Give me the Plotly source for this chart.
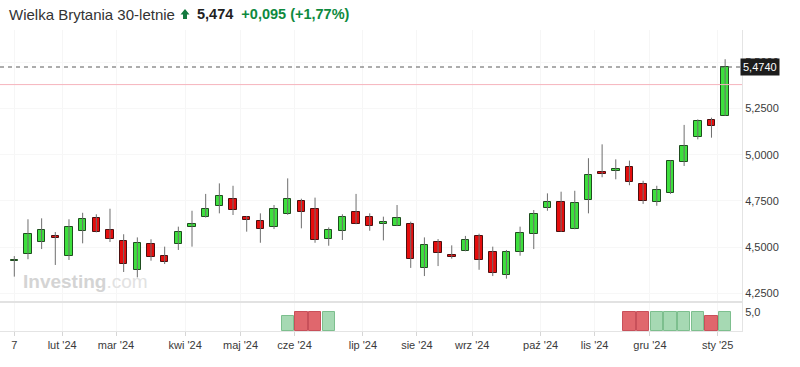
import plotly.graph_objects as go

# Weekly candles (week index 0 = 7 Jan 2024)
opens  = [4.427,4.462,4.528,4.562,4.452,4.588,4.659,4.591,4.534,4.378,4.519,4.452,4.519,4.611,4.662,4.721,4.761,4.665,4.640,4.609,
          4.678,4.748,4.706,4.543,4.586,4.692,4.662,4.625,4.615,4.627,4.386,4.530,4.456,4.479,4.559,4.476,4.350,4.476,4.573,4.710,
          4.743,4.598,4.755,4.906,4.910,4.932,4.840,4.746,4.791,4.961,5.094,5.188,5.211]
highs  = [4.452,4.651,4.656,4.582,4.651,4.686,4.678,4.708,4.570,4.553,4.543,4.503,4.611,4.697,4.788,4.845,4.832,4.669,4.683,4.728,
          4.872,4.762,4.768,4.607,4.678,4.788,4.683,4.665,4.728,4.638,4.553,4.544,4.510,4.561,4.573,4.503,4.485,4.611,4.701,4.791,
          4.800,4.805,4.981,5.056,4.975,4.968,4.859,4.832,4.968,5.161,5.191,5.200,5.516]
lows   = [4.341,4.435,4.490,4.404,4.431,4.521,4.580,4.528,4.366,4.337,4.427,4.409,4.485,4.503,4.660,4.683,4.674,4.584,4.524,4.598,
          4.675,4.602,4.524,4.508,4.539,4.624,4.589,4.537,4.614,4.388,4.344,4.398,4.438,4.478,4.378,4.344,4.330,4.454,4.490,4.697,
          4.583,4.597,4.683,4.878,4.867,4.835,4.734,4.724,4.788,4.939,5.083,5.092,5.210]
closes = [4.427,4.570,4.591,4.548,4.611,4.654,4.582,4.546,4.408,4.521,4.445,4.422,4.582,4.624,4.705,4.777,4.701,4.649,4.600,4.708,
          4.761,4.689,4.537,4.591,4.664,4.625,4.616,4.636,4.659,4.436,4.514,4.470,4.445,4.539,4.431,4.359,4.472,4.578,4.681,4.746,
          4.584,4.737,4.892,4.896,4.921,4.851,4.750,4.808,4.966,5.047,5.184,5.155,5.474]
volumes = [0]*20 + [4,5,5,5] + [0]*21 + [5,5,5,5,5,5,4,5]

prev_close = 5.379
last_close = 5.474

x_tick_pos = [0, 3.5, 7.44, 12.5, 16.55, 20.5, 25.5, 29.45, 33.5, 38.5, 42.45, 46.5, 51.45]
x_tick_text = ["7", "lut '24", "mar '24", "kwi '24", "maj '24", "cze '24", "lip '24", "sie '24",
               "wrz '24", "paź '24", "lis '24", "gru '24", "sty '25"]
y_tick_vals = [4.25, 4.5, 4.75, 5.0, 5.25, 5.5]

n = len(opens)
idx = list(range(n))

W, H = 800, 367
plot_right = 742 / W
main_bottom = (H - 302) / H
main_top = (H - 30) / H
vol_bottom = (H - 331) / H

px_per_unit = 185.0
y_at_5 = 154.7
ymin = 5 + (y_at_5 - 302) / px_per_unit
ymax = 5 + (y_at_5 - 30) / px_per_unit
x_step = 13.67
x0_px = 14.3
xmin = (0 - x0_px) / x_step
xmax = (742 - x0_px) / x_step

GREEN = "#3de03d"
RED = "#e50d0d"
GREEN_EDGE = "#1f4d1f"
RED_EDGE = "#4d1010"

up = [c >= o for o, c in zip(opens, closes)]

fig = go.Figure()

# wicks
wx, wy = [], []
for i in idx:
    wx += [i, i, None]
    wy += [lows[i], highs[i], None]
fig.add_trace(go.Scatter(x=wx, y=wy, mode="lines", line=dict(color="#6e6e6e", width=1),
                         hoverinfo="skip", showlegend=False, yaxis="y"))

# bodies
base = [min(o, c) for o, c in zip(opens, closes)]
hgt = [max(abs(c - o), 0.003) for o, c in zip(opens, closes)]
fig.add_trace(go.Bar(x=idx, y=hgt, base=base, width=0.55,
                     marker=dict(color=[GREEN if u else RED for u in up],
                                 line=dict(color=[GREEN_EDGE if u else RED_EDGE for u in up], width=1)),
                     showlegend=False, yaxis="y"))

# volume
fig.add_trace(go.Bar(x=idx, y=volumes, width=0.9,
                     marker=dict(color=["#a6d9b3" if u else "#e0676d" for u in up],
                                 line=dict(color=["#7dbf8e" if u else "#c8505a" for u in up],
                                           width=[1 if v > 0 else 0 for v in volumes])),
                     showlegend=False, yaxis="y2"))

axis_font = dict(family="Liberation Sans, Arial", size=11, color="#3a3a3a")

def px(xp):
    return xp / W

def py(yp):
    return (H - yp) / H

fig.update_layout(
    width=W, height=H, margin=dict(l=0, r=0, t=0, b=0),
    paper_bgcolor="white", plot_bgcolor="white",
    bargap=0, barmode="overlay",
    font=dict(family="Liberation Sans, Arial", color="#333"),
    xaxis=dict(domain=[0, plot_right], range=[xmin, xmax], anchor="y2",
               tickvals=x_tick_pos, ticktext=x_tick_text, tickfont=axis_font,
               showgrid=True, gridcolor="#f6f6f6", zeroline=False,
               showline=True, linecolor="#e4e4e4", linewidth=1,
               ticks="outside", ticklen=4, tickcolor="#d6d6d6"),
    yaxis=dict(domain=[main_bottom, main_top], range=[ymin, ymax], side="right", anchor="x",
               tickvals=y_tick_vals, ticktext=[f"{v:.4f}".replace(".", ",") for v in y_tick_vals],
               tickfont=axis_font, showgrid=True, gridcolor="#f7f7f7", zeroline=False,
               showline=True, linecolor="#e4e4e4", ticks=""),
    yaxis2=dict(domain=[vol_bottom, main_bottom], range=[0, 7.51], side="right", anchor="x",
                tickvals=[5], ticktext=["5,0"], tickfont=axis_font, showgrid=False, zeroline=False,
                showline=True, linecolor="#e4e4e4", ticks=""),
    shapes=[
        dict(type="line", xref="paper", yref="y", x0=0, x1=plot_right, y0=prev_close, y1=prev_close,
             line=dict(color="#f6b5bd", width=1)),
        dict(type="line", xref="paper", yref="y", x0=0, x1=plot_right, y0=last_close, y1=last_close,
             line=dict(color="#5a5a5a", width=1, dash="4px,4px")),
        dict(type="line", xref="paper", yref="paper", x0=0, x1=plot_right, y0=main_bottom, y1=main_bottom,
             line=dict(color="#e2e2e2", width=2)),
        # up-arrow icon in the title
        dict(type="path", xref="paper", yref="paper",
             path=(f"M {px(180.5)} {py(14.5)} L {px(185)} {py(9)} L {px(189.5)} {py(14.5)} "
                   f"L {px(187)} {py(14.5)} L {px(187)} {py(19)} L {px(183)} {py(19)} "
                   f"L {px(183)} {py(14.5)} Z"),
             fillcolor="#137a3f", line=dict(width=0)),
    ],
    annotations=[
        dict(xref="paper", yref="paper", x=px(7), y=py(14), xanchor="left", yanchor="middle",
             showarrow=False, align="left", text="Wielka Brytania 30-letnie",
             font=dict(family="Liberation Sans, Arial", size=15, color="#333333")),
        dict(xref="paper", yref="paper", x=px(195), y=py(14), xanchor="left", yanchor="middle",
             showarrow=False, align="left",
             text="<b>5,474</b>  <b><span style='color:#0e8a3e'>+0,095 (+1,77%)</span></b>",
             font=dict(family="Liberation Sans, Arial", size=14.5, color="#222222")),
        dict(xref="paper", yref="y", x=plot_right - 2 / W, y=last_close, xanchor="left", yanchor="middle",
             showarrow=False, text="5,4740", bgcolor="#1c1c1c", borderpad=2,
             font=dict(family="Liberation Sans, Arial", size=11, color="white")),
        dict(xref="paper", yref="paper", x=px(21), y=py(281), xanchor="left", yanchor="middle",
             showarrow=False, text="<b>Investing</b><span style='color:#e2e2e2'>.com</span>",
             font=dict(family="Liberation Sans, Arial", size=19, color="#d4d4d4")),
    ],
)

fig.write_html("out.html")
